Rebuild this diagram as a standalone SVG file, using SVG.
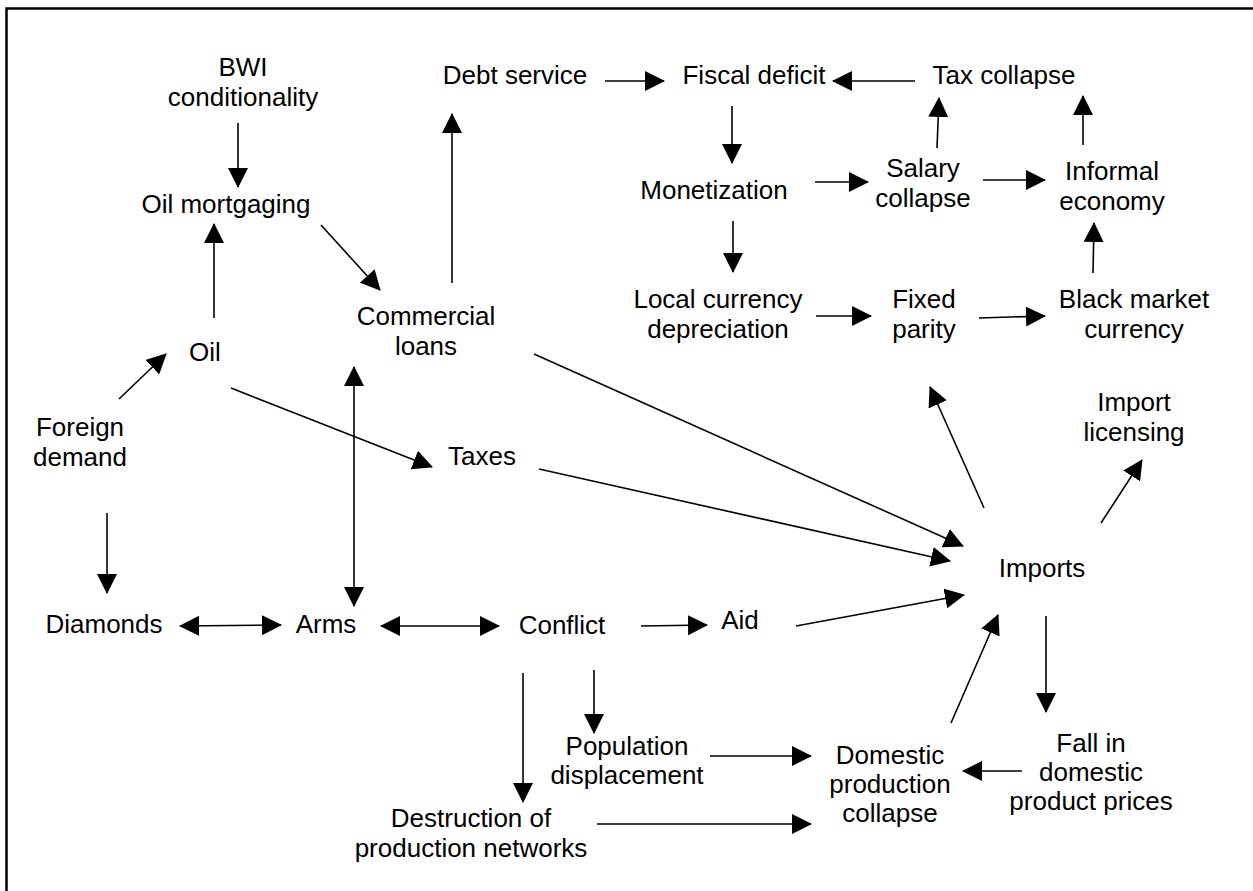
<svg xmlns="http://www.w3.org/2000/svg" width="1253" height="891" viewBox="0 0 1253 891">
<defs>
<style>
text{font-family:"Liberation Sans",Arial,Helvetica,sans-serif;font-size:26px;fill:#000;text-anchor:middle}
.c{stroke:#000;stroke-width:1.6;fill:none;marker-end:url(#ah)}
.b{marker-start:url(#ah)}
</style>
<marker id="ah" markerUnits="userSpaceOnUse" markerWidth="20" markerHeight="20" refX="19" refY="10" orient="auto-start-reverse" viewBox="0 0 20 20">
<path d="M0,0 L20,10 L0,20 z" fill="#000"/>
</marker>
</defs>
<rect width="1253" height="891" fill="#fff"/>
<path d="M6.5,900 V8.5 H1260" fill="none" stroke="#000" stroke-width="2.5"/>

<g id="bwi"><text x="243" y="76">BWI</text><text x="243" y="106">conditionality</text></g>
<g id="oilmort"><text x="226" y="213">Oil mortgaging</text></g>
<g id="oil"><text x="205" y="361">Oil</text></g>
<g id="foreign"><text x="80" y="436">Foreign</text><text x="80" y="466">demand</text></g>
<g id="diamonds"><text x="104" y="633">Diamonds</text></g>
<g id="arms"><text x="326" y="633">Arms</text></g>
<g id="commercial"><text x="426" y="325">Commercial</text><text x="426" y="355">loans</text></g>
<g id="taxes"><text x="482" y="465">Taxes</text></g>
<g id="debt"><text x="515" y="84">Debt service</text></g>
<g id="fiscal"><text x="754" y="84">Fiscal deficit</text></g>
<g id="taxcollapse"><text x="1004" y="84">Tax collapse</text></g>
<g id="monetization"><text x="714" y="199">Monetization</text></g>
<g id="salary"><text x="923" y="177">Salary</text><text x="923" y="207">collapse</text></g>
<g id="informal"><text x="1112" y="180">Informal</text><text x="1112" y="210">economy</text></g>
<g id="localcur"><text x="718" y="308">Local currency</text><text x="718" y="338">depreciation</text></g>
<g id="fixed"><text x="924" y="308">Fixed</text><text x="924" y="338">parity</text></g>
<g id="blackmarket"><text x="1134" y="308">Black market</text><text x="1134" y="338">currency</text></g>
<g id="importlic"><text x="1134" y="411">Import</text><text x="1134" y="441">licensing</text></g>
<g id="imports"><text x="1042" y="577">Imports</text></g>
<g id="conflict"><text x="562" y="634">Conflict</text></g>
<g id="aid"><text x="740" y="629">Aid</text></g>
<g id="population"><text x="627" y="755">Population</text><text x="627" y="784">displacement</text></g>
<g id="destruction"><text x="471" y="827">Destruction of</text><text x="471" y="857">production networks</text></g>
<g id="domestic"><text x="890" y="764">Domestic</text><text x="890" y="793">production</text><text x="890" y="822">collapse</text></g>
<g id="fallin"><text x="1091" y="752">Fall in</text><text x="1091" y="781">domestic</text><text x="1091" y="810">product prices</text></g>

<g id="connectors">
<path class="c" d="M238,123 V187"/>
<path class="c" d="M214,318 V224"/>
<path class="c" d="M321,225 L380,290"/>
<path class="c" d="M605,81 H664"/>
<path class="c" d="M452,283 V114"/>
<path class="c" d="M732,106 V163"/>
<path class="c" d="M733,221 V272"/>
<path class="c" d="M815,182 H868"/>
<path class="c" d="M915,81 H833"/>
<path class="c" d="M937,148 L939,98"/>
<path class="c" d="M983,180 H1045"/>
<path class="c" d="M1083,145 V96"/>
<path class="c" d="M1093,273 L1094,223"/>
<path class="c" d="M119,399 L166,354"/>
<path class="c" d="M231,388 L432,467"/>
<path class="c" d="M107,513 V593"/>
<path class="c b" d="M354,367 V606"/>
<path class="c b" d="M180,626 L281,625"/>
<path class="c b" d="M381,626 H499"/>
<path class="c" d="M534,354 L963,546"/>
<path class="c" d="M539,469 L950,561"/>
<path class="c" d="M796,626 L964,595"/>
<path class="c" d="M984,508 L930,387"/>
<path class="c" d="M1101,523 L1142,460"/>
<path class="c" d="M641,626 L707,625"/>
<path class="c" d="M816,316 H871"/>
<path class="c" d="M979,318 L1045,316"/>
<path class="c" d="M951,723 L998,615"/>
<path class="c" d="M1046,616 V712"/>
<path class="c" d="M1022,771 H963"/>
<path class="c" d="M523,673 V802"/>
<path class="c" d="M594,670 V733"/>
<path class="c" d="M710,756 H811"/>
<path class="c" d="M597,824 H811"/>
</g>
</svg>
